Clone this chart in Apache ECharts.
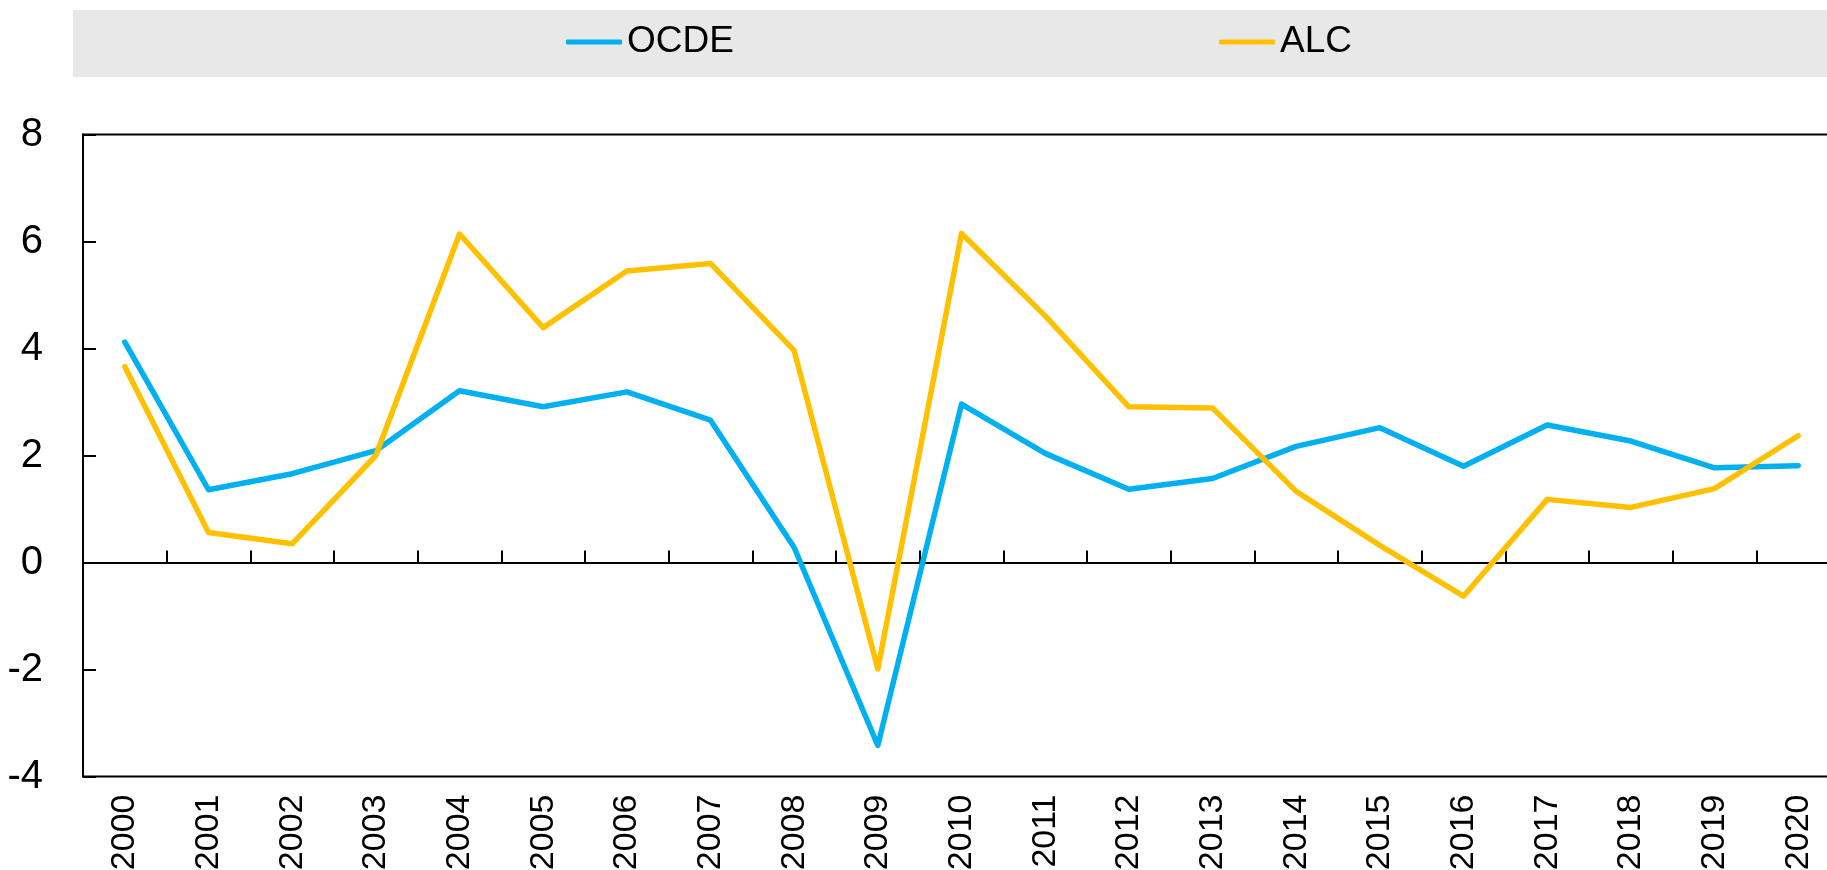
<!DOCTYPE html>
<html>
<head>
<meta charset="utf-8">
<script src="https://cdn.jsdelivr.net/npm/echarts@6/dist/echarts.min.js"></script>
<style>html,body{margin:0;padding:0;background:#fff;}#c{width:1827px;height:870px;}</style>
</head>
<body>
<div id="c"></div>
<script>
const years = ['2000','2001','2002','2003','2004','2005','2006','2007','2008','2009','2010','2011','2012','2013','2014','2015','2016','2017','2018','2019','2020'];
const ocde = [4.12, 1.36, 1.66, 2.09, 3.21, 2.91, 3.19, 2.66, 0.28, -3.42, 2.96, 2.04, 1.37, 1.57, 2.17, 2.52, 1.80, 2.57, 2.27, 1.77, 1.81];
const alc  = [3.66, 0.56, 0.35, 2.00, 6.14, 4.39, 5.45, 5.59, 3.96, -1.99, 6.15, 4.61, 2.91, 2.89, 1.33, 0.32, -0.63, 1.18, 1.03, 1.38, 2.37];
const yTicks = {min: -4, max: 8, interval: 2};
const names = ['OCDE', 'ALC'];
const colors = ['#00B0F0', '#FFC000'];

const chart = echarts.init(document.getElementById('c'), null, {renderer: 'canvas'});
const legendText = {fontFamily: "'Liberation Sans Narrow', 'Liberation Sans', Arial, sans-serif", fontSize: 37, color: '#000', lineHeight: 46};
chart.setOption({
  animation: false,
  backgroundColor: '#fff',
  graphic: [{type: 'rect', z: -10, shape: {x: 73, y: 10, width: 1754, height: 67}, style: {fill: '#e8e8e8'}}],
  legend: [
    {data: [names[0]], left: 566, top: 19, padding: 0, itemWidth: 56, itemHeight: 5, itemGap: 0, icon: 'roundRect', textStyle: legendText},
    {data: [names[1]], left: 1219, top: 19, padding: 0, itemWidth: 56, itemHeight: 5, itemGap: 0, icon: 'roundRect', textStyle: legendText}
  ],
  grid: {left: 83, top: 134.5, width: 1757, height: 642, outerBoundsMode: 'none', containLabel: false,
         show: true, borderColor: '#000', borderWidth: 2, backgroundColor: 'transparent'},
  xAxis: [
    {type: 'category', data: years, position: 'bottom', boundaryGap: true,
     axisLine: {show: false, onZero: false}, axisTick: {show: false}, splitLine: {show: false},
     axisLabel: {rotate: 90, fontSize: 34, color: '#000', fontFamily: "'Liberation Sans', Arial, sans-serif", margin: 18, interval: 0}},
    {type: 'category', data: years, position: 'bottom', boundaryGap: true,
     axisLine: {show: true, onZero: true, lineStyle: {color: '#000', width: 2}},
     axisTick: {show: true, inside: true, length: 12, interval: 0, lineStyle: {color: '#000', width: 2}},
     axisLabel: {show: false}, splitLine: {show: false}}
  ],
  yAxis: {type: 'value', min: yTicks.min, max: yTicks.max, interval: yTicks.interval,
    axisLine: {show: true, lineStyle: {color: '#000', width: 2}},
    axisTick: {show: true, inside: true, length: 13, lineStyle: {color: '#000', width: 2}},
    splitLine: {show: false},
    axisLabel: {fontSize: 40, color: '#000', fontFamily: "'Liberation Sans', Arial, sans-serif", margin: 40}},
  series: [
    {name: names[0], type: 'line', data: ocde, xAxisIndex: 0, showSymbol: false, symbol: 'none', color: colors[0],
     lineStyle: {width: 5.5, color: colors[0], cap: 'round', join: 'round'}, z: 3},
    {name: names[1], type: 'line', data: alc, xAxisIndex: 0, showSymbol: false, symbol: 'none', color: colors[1],
     lineStyle: {width: 5.5, color: colors[1], cap: 'round', join: 'round'}, z: 4}
  ]
});
</script>
</body>
</html>
